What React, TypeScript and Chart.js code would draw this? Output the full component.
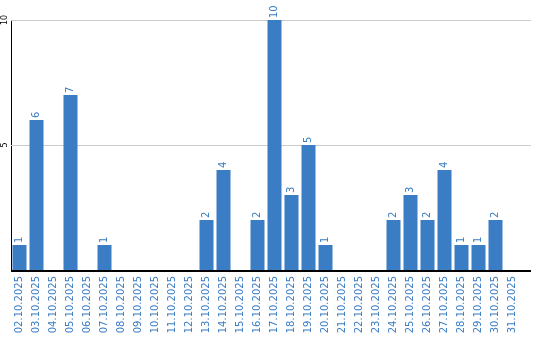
import React, { useEffect, useRef } from "react";
import { Chart, registerables } from "chart.js";

Chart.register(...registerables);

const categories = [
  "02.10.2025", "03.10.2025", "04.10.2025", "05.10.2025", "06.10.2025",
  "07.10.2025", "08.10.2025", "09.10.2025", "10.10.2025", "11.10.2025",
  "12.10.2025", "13.10.2025", "14.10.2025", "15.10.2025", "16.10.2025",
  "17.10.2025", "18.10.2025", "19.10.2025", "20.10.2025", "21.10.2025",
  "22.10.2025", "23.10.2025", "24.10.2025", "25.10.2025", "26.10.2025",
  "27.10.2025", "28.10.2025", "29.10.2025", "30.10.2025", "31.10.2025",
];
const values = [
  1, 6, 0, 7, 0, 1, 0, 0, 0, 0,
  0, 2, 4, 0, 2, 10, 3, 5, 1, 0,
  0, 0, 2, 3, 2, 4, 1, 1, 2, 0,
];
const yTicks = [0, 5, 10];

const BAR_COLOR = "#3b7dc4";
const TEXT_BLUE = "#3a7cc3";
const GRID_COLOR = "#cccccc";
const EXT = 10;

const extras = {
  id: "extras",
  beforeDatasetsDraw(chart: any) {
    const { ctx, chartArea, scales } = chart;
    const y = scales.y;
    ctx.save();
    ctx.strokeStyle = GRID_COLOR;
    ctx.lineWidth = 1;
    y.ticks.forEach((t: any) => {
      if (t.value === 0) return;
      const py = Math.round(y.getPixelForValue(t.value)) + 0.5;
      ctx.beginPath();
      ctx.moveTo(chartArea.left, py);
      ctx.lineTo(chartArea.right + EXT, py);
      ctx.stroke();
    });
    ctx.restore();
  },
  afterDatasetsDraw(chart: any) {
    const { ctx, chartArea, scales } = chart;
    const y = scales.y;
    ctx.save();
    ctx.strokeStyle = "#000";
    ctx.lineWidth = 2;
    const py = Math.round(y.getPixelForValue(0)) + 1;
    ctx.beginPath();
    ctx.moveTo(chartArea.left, py);
    ctx.lineTo(chartArea.right + EXT, py);
    ctx.stroke();

    ctx.fillStyle = TEXT_BLUE;
    ctx.font = "10px 'DejaVu Sans'";
    const meta = chart.getDatasetMeta(0);
    meta.data.forEach((bar: any, i: number) => {
      const v = values[i];
      if (!v) return;
      ctx.save();
      ctx.translate(bar.x, bar.y - 2);
      ctx.rotate(-Math.PI / 2);
      ctx.textAlign = "left";
      ctx.textBaseline = "middle";
      ctx.fillText(String(v), 0, 0);
      ctx.restore();
    });
    ctx.restore();
  },
};

export default function App() {
  const ref = useRef<HTMLCanvasElement>(null);
  useEffect(() => {
    document.body.style.margin = "0";
    const chart = new Chart(ref.current!, {
      type: "bar",
      data: {
        labels: categories,
        datasets: [
          {
            data: values,
            backgroundColor: BAR_COLOR,
            barPercentage: 14 / 17,
            categoryPercentage: 1,
          },
        ],
      },
      options: {
        animation: false,
        responsive: false,
        layout: { padding: { top: 20, right: 19, left: 0, bottom: 0 } },
        plugins: { legend: { display: false }, tooltip: { enabled: false } },
        scales: {
          x: {
            grid: { display: false, drawTicks: false },
            border: { display: false },
            ticks: {
              minRotation: 90,
              maxRotation: 90,
              autoSkip: false,
              padding: 6,
              color: TEXT_BLUE,
              font: { family: "'DejaVu Sans'", size: 10 },
            },
            afterFit: (s: any) => {
              s.height = 70;
            },
          },
          y: {
            min: 0,
            max: 10,
            afterBuildTicks: (s: any) => {
              s.ticks = yTicks.map((v) => ({ value: v }));
            },
            grid: { display: false, drawTicks: false },
            border: { display: true, color: "#000", width: 1 },
            ticks: {
              minRotation: 90,
              maxRotation: 90,
              crossAlign: "center",
              padding: 1,
              color: "#000",
              font: { family: "'DejaVu Sans'", size: 8 },
              callback: (v: any) => (v === 0 ? "" : String(v)),
            },
            afterFit: (s: any) => {
              s.width = 11;
            },
          },
        },
      },
      plugins: [extras],
    });
    return () => chart.destroy();
  }, []);
  return (
    <div style={{ width: 540, height: 340 }}>
      <canvas ref={ref} width={540} height={340} />
    </div>
  );
}
